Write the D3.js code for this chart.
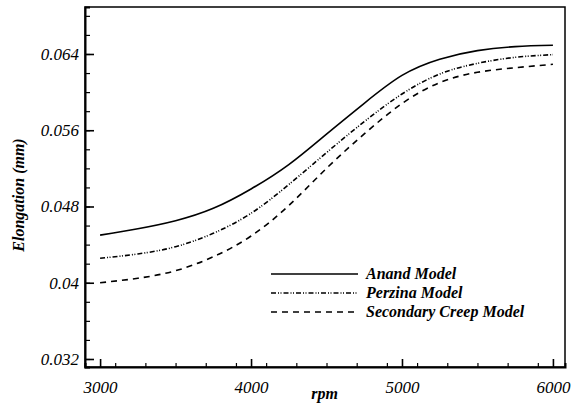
<!DOCTYPE html>
<html><head><meta charset="utf-8">
<script src="https://cdn.jsdelivr.net/npm/d3@7"></script>
<style>body{margin:0;background:#fff}svg{display:block}</style>
</head><body>
<script>
const rpm = [3000,3250,3500,3750,4000,4250,4500,4750,5000,5250,5500,5750,6000];
const anand = [0.0450,0.04567,0.04651,0.04781,0.04984,0.05240,0.05560,0.05883,0.06175,0.06345,0.06435,0.06477,0.06491];
const perzina = [0.04257,0.04302,0.04378,0.04519,0.04729,0.05030,0.05365,0.0569,0.05980,0.06190,0.06302,0.06365,0.06393];
const secondary = [0.0400,0.04047,0.04126,0.04273,0.0449,0.04810,0.05200,0.05561,0.05880,0.06100,0.06208,0.06256,0.06292];
const seriesNames = ["Anand Model","Perzina Model","Secondary Creep Model"];
const xTicks = [3000,4000,5000,6000];
const yTicks = [0.032,0.04,0.048,0.056,0.064];
const yTickLabels = ["0.032","0.04","0.048","0.056","0.064"];

const FONT="'Liberation Serif', 'Times New Roman', serif";
function serif(sel,bold){
  sel.style("font-family",FONT,"important").style("font-style","italic","important");
  if(bold) sel.style("font-weight","bold","important");
  return sel;
}
const W=572,H=404;
const m={l:85,t:7,r:7,b:37};
const svg=d3.select("body").append("svg").attr("width",W).attr("height",H);
const x=d3.scaleLinear().domain([2900,6080]).range([m.l,W-m.r]);
const y=d3.scaleLinear().domain([0.03116,0.06893]).range([H-m.b,m.t]);

svg.append("rect").attr("x",m.l).attr("y",m.t).attr("width",W-m.r-m.l).attr("height",H-m.b-m.t)
  .attr("fill","none").attr("stroke","#000").attr("stroke-width",1.5);

const xMinor=d3.range(2900,6081,200);
const xa=svg.append("g").attr("transform",`translate(0,${H-m.b})`)
  .call(d3.axisBottom(x).tickValues(xMinor).tickSize(-4).tickFormat(""));
xa.select(".domain").attr("stroke-width",2);
xa.selectAll("line").attr("stroke-width",1.2);
const xb=svg.append("g").attr("transform",`translate(0,${H-m.b})`)
  .call(d3.axisBottom(x).tickValues(xTicks).tickSize(-8).tickPadding(14).tickFormat(d3.format("d")));
xb.attr("font-size",17);
xb.select(".domain").remove();
xb.selectAll("line").attr("stroke-width",1.6);
serif(xb.selectAll("text").attr("fill","#000"));

const yMinor=d3.range(0,19).map(i=>+(0.032+i*0.002).toFixed(3));
const ya=svg.append("g").attr("transform",`translate(${m.l},0)`)
  .call(d3.axisLeft(y).tickValues(yMinor).tickSize(-5).tickFormat(""));
ya.select(".domain").attr("stroke-width",2);
ya.selectAll("line").attr("stroke-width",1.2);
const yb=svg.append("g").attr("transform",`translate(${m.l},0)`)
  .call(d3.axisLeft(y).tickValues(yTicks).tickSize(-9).tickPadding(6).tickFormat((d,i)=>yTickLabels[i]));
yb.attr("font-size",17);
yb.select(".domain").remove();
yb.selectAll("line").attr("stroke-width",1.6);
serif(yb.selectAll("text").attr("fill","#000"));

serif(svg.append("text").attr("x",x(4500)-2).attr("y",399).attr("text-anchor","middle")
  .attr("font-size",16).text("rpm"),true);
serif(svg.append("text").attr("transform",`translate(24,195) rotate(-90)`).attr("text-anchor","middle")
  .attr("font-size",16).text("Elongation (mm)"),true);

const styles=[
  {dash:null},
  {dash:"5,2,1,1.5,1,2"},
  {dash:"6,5"}
];
const data=[anand,perzina,secondary];
const line=d3.line().x((d,i)=>x(rpm[i])).y(d=>y(d)).curve(d3.curveNatural);
data.forEach((s,k)=>{
  const p=svg.append("path").datum(s).attr("d",line).attr("fill","none")
    .attr("stroke","#000").attr("stroke-width",1.6);
  if(styles[k].dash) p.attr("stroke-dasharray",styles[k].dash);
});

const ly=[274,293,312];
seriesNames.forEach((n,k)=>{
  const l=svg.append("line").attr("x1",271).attr("x2",358).attr("y1",ly[k]).attr("y2",ly[k])
    .attr("stroke","#000").attr("stroke-width",1.6);
  if(styles[k].dash) l.attr("stroke-dasharray",styles[k].dash);
  serif(svg.append("text").attr("x",366).attr("y",ly[k]+5).attr("font-size",16).text(n),true);
});
</script>
</body></html>
